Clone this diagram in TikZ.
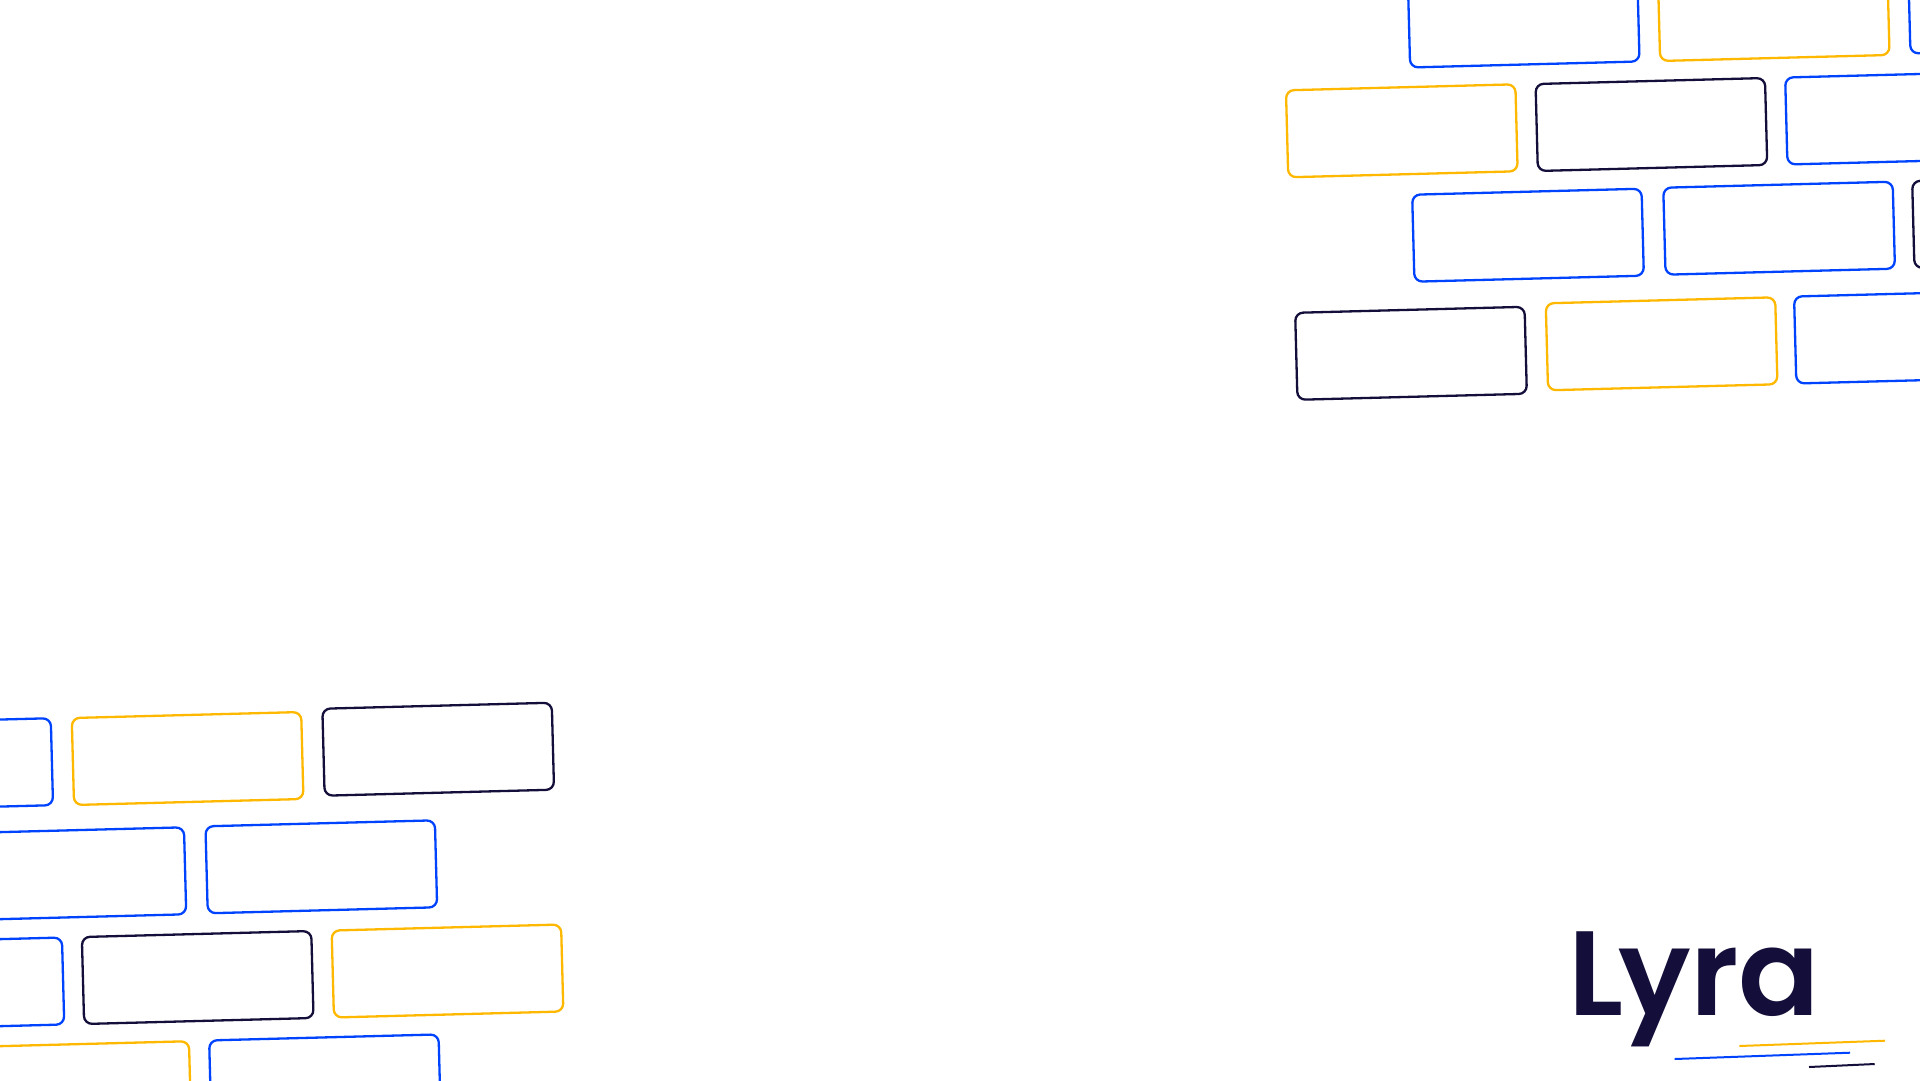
\documentclass[tikz,border=0pt]{standalone}
\usepackage{fontspec}
\newfontfamily\logofont{Poppins SemiBold}
\definecolor{lyrablue}{HTML}{0043FF}
\definecolor{lyrayellow}{HTML}{FFB800}
\definecolor{lyranavy}{HTML}{140F3A}
\tikzset{
    brick/.style={draw, line width=2.3pt, rounded corners=8pt, rotate=1.5, minimum width=229.5pt, minimum height=87pt},
    bluebrick/.style={brick, draw=lyrablue},
    yellowbrick/.style={brick, draw=lyrayellow},
    navybrick/.style={brick, draw=lyranavy},
    stroke/.style={line width=2pt}
}
\begin{document}
\begin{tikzpicture}[x=1pt, y=-1pt]
    \useasboundingbox (0,0) rectangle (1920,1080);

    \node [bluebrick](tr_a1) at (1523.7,21){};
    \node [yellowbrick](tr_a2) at (1773.7,14.5){};
    \node [bluebrick](tr_a3) at (2024,7){};

    \node [yellowbrick](tr_b1) at (1401.8,130.8){};
    \node [navybrick](tr_b2) at (1651.4,124.5){};
    \node [bluebrick](tr_b3) at (1901,118){};

    \node [bluebrick](tr_c1) at (1528,235.2){};
    \node [bluebrick](tr_c2) at (1779.1,228.2){};
    \node [navybrick](tr_c3) at (2028,221.5){};

    \node [navybrick](tr_d1) at (1411,353.3){};
    \node [yellowbrick](tr_d2) at (1661.6,343.8){};
    \node [bluebrick](tr_d3) at (1909.9,337){};

    \node [bluebrick](bl_a1) at (-62.8,764.7){};
    \node [yellowbrick](bl_a2) at (187.6,758.5){};
    \node [navybrick](bl_a3) at (438.2,749.2){};

    \node [bluebrick](bl_b1) at (70.4,873.8){};
    \node [bluebrick](bl_b2) at (321.3,866.8){};

    \node [bluebrick](bl_c1) at (-51.6,984){};
    \node [navybrick](bl_c2) at (197.7,977.5){};
    \node [yellowbrick](bl_c3) at (447.5,971){};

    \node [yellowbrick](bl_d1) at (75.4,1087.7){};
    \node [bluebrick](bl_d2) at (325,1080.9){};

    \node [text=lyranavy, inner sep=0pt, anchor=base west, font=\logofont\fontsize{120pt}{120pt}\selectfont](logo) at (1568,1015.7){L\kern-5pt y\kern-0.5pt r\kern-0.5pt a};

    \coordinate (yellow_s) at (1739.3,1046);
    \coordinate (yellow_e) at (1885,1040.7);
    \coordinate (blue_s) at (1674.7,1059);
    \coordinate (blue_e) at (1850,1052.7);
    \coordinate (navy_s) at (1809,1067);
    \coordinate (navy_e) at (1874.7,1064);
    \draw [stroke, lyrayellow] (yellow_s) -- (yellow_e);
    \draw [stroke, lyrablue] (blue_s) -- (blue_e);
    \draw [stroke, lyranavy] (navy_s) -- (navy_e);
\end{tikzpicture}
\end{document}
